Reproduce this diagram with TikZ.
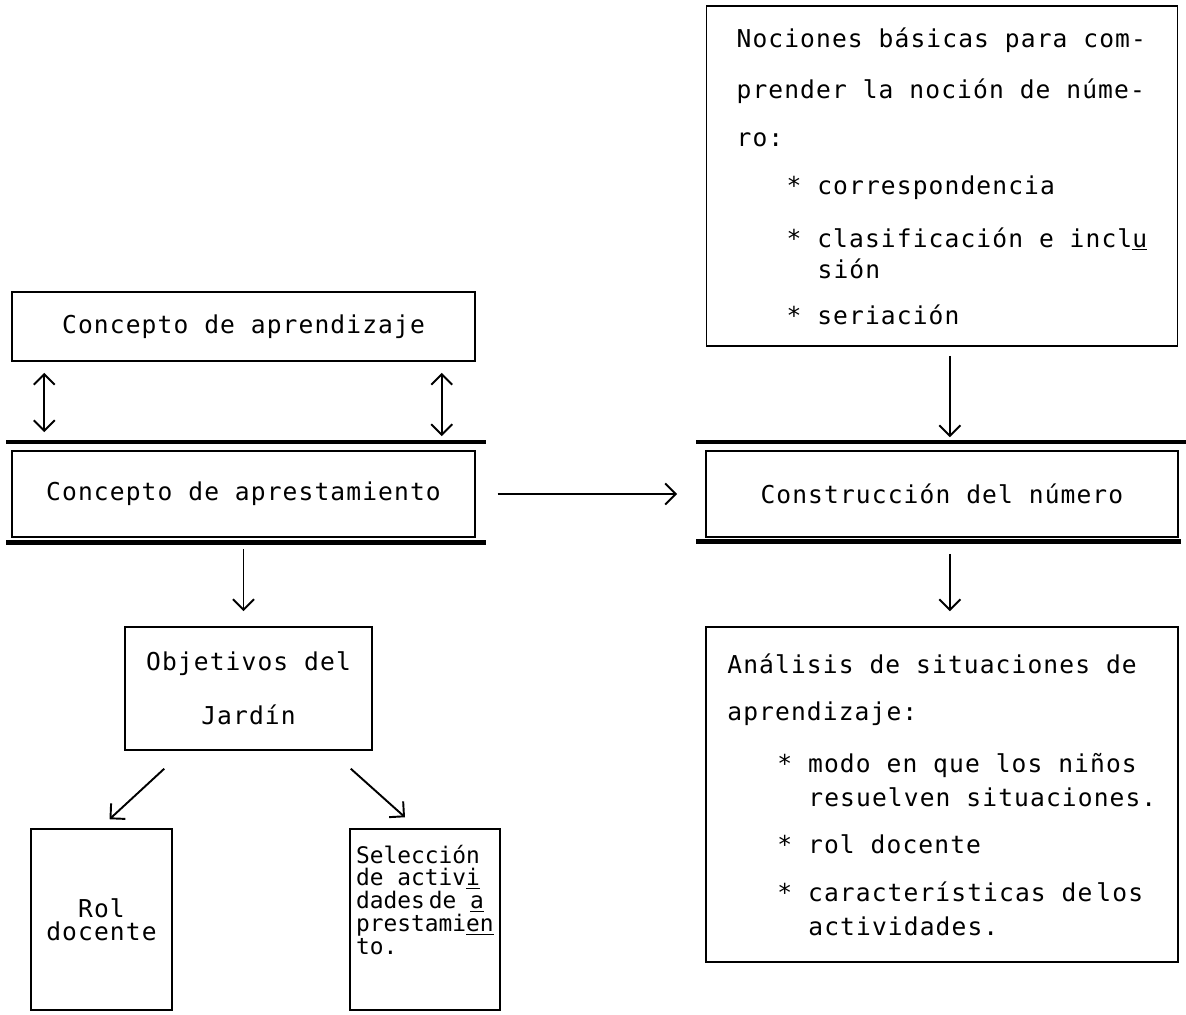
\documentclass[tikz,border=0pt]{standalone}
\usepackage{fontspec}
\newfontfamily\plotfont[LetterSpace=4.5]{DejaVu Sans Mono}
\newfontfamily\plotsmall{DejaVu Sans Mono}
\usetikzlibrary{arrows.meta,positioning}

\begin{document}
\begin{tikzpicture}[x=0.02cm, y=-0.02cm, >={Straight Barb[length=6pt,width=12pt]}, on grid,
  font=\plotfont\fontsize{14}{13}\selectfont,
  box/.style={draw, line width=0.9pt, inner sep=0pt, align=center},
  textbox/.style={box, align=left},
  arr/.style={->, line width=1.1pt},
  dbl/.style={<->, line width=1.1pt},
  bar/.style={line width=2.6pt}]
  \useasboundingbox (0,0) rectangle (1186,1014);
  % left column
  \node[box, minimum width=9.26cm, minimum height=1.38cm] (APREND) at (243.5,326.5) {Concepto de aprendizaje};
  \node[box, minimum width=9.26cm, minimum height=1.72cm] (APREST) [below=3.35cm of APREND] {Concepto de aprestamiento};
  \node[box, minimum width=4.94cm, minimum height=2.46cm] (OBJET) [below=3.89cm of APREST, xshift=0.1cm] {Objetivos del\\[0.54cm]Jard\'in};
  \node[box, minimum width=2.82cm, minimum height=3.62cm] (ROL) at (101.5,919.5) {Rol\\docente};
  \node[textbox, minimum width=3cm, minimum height=3.62cm, inner xsep=0.08cm,
    font=\plotsmall\fontsize{13}{13}\selectfont] (SELEC) at (425,919.5)
    {Selecci\'on\\de activ\underline{i}\\dades\,de \underline{a}\\prestami\underline{en}\\to.\\[0.34cm]\mbox{}};
  % right column
  \node[box, minimum width=9.44cm, minimum height=1.72cm] (CONSTR) [right=13.97cm of APREST] {Construcci\'on del n\'umero};
  \node[textbox, minimum width=9.42cm, minimum height=6.8cm] (NOCIONES) [above=6.36cm of CONSTR]
    {Nociones b\'asicas para com-\\[0.5cm]prender la noci\'on de n\'ume-\\[0.5cm]ro:\\[0.5cm]%
     \hspace*{1cm}* correspondencia\\[0.52cm]\hspace*{1cm}* clasificaci\'on e incl\underline{u}\\[0.12cm]%
     \hspace*{1.62cm}si\'on\\[0.46cm]\hspace*{1cm}* seriaci\'on};
  \node[textbox, minimum width=9.44cm, minimum height=6.7cm] (ANALISIS) [below=6.01cm of CONSTR]
    {An\'alisis de situaciones de\\[0.5cm]aprendizaje:\\[0.52cm]%
     \hspace*{1cm}* modo en que los ni\~nos\\[0.16cm]\hspace*{1.62cm}resuelven situaciones.\\[0.48cm]%
     \hspace*{1cm}* rol docente\\[0.5cm]\hspace*{1cm}* caracter\'isticas de\,los\\[0.22cm]%
     \hspace*{1.62cm}actividades.};
  % heavy rules round the two middle boxes
  \draw[bar] ([shift={(-5,-8)}]APREST.north west) -- ([shift={(10,-8)}]APREST.north east);
  \draw[bar] ([shift={(-5,5)}]APREST.south west) -- ([shift={(10,5)}]APREST.south east);
  \draw[bar] ([shift={(-9,-8)}]CONSTR.north west) -- ([shift={(8,-8)}]CONSTR.north east);
  \draw[bar] ([shift={(-9,4)}]CONSTR.south west) -- ([shift={(2,4)}]CONSTR.south east);
  % connectors
  \draw[dbl, shorten <=0.22cm, shorten >=0.36cm] ([shift={(33,0)}]APREND.south west) -- ([shift={(33,0)}]APREST.north west);
  \draw[dbl, shorten <=0.22cm, shorten >=0.28cm] ([shift={(-34,0)}]APREND.south east) -- ([shift={(-34,0)}]APREST.north east);
  \draw[arr, shorten <=0.44cm, shorten >=0.56cm] (APREST.east) -- (CONSTR.west);
  \draw[arr, shorten <=0.22cm, shorten >=0.3cm] (APREST.south) -- (APREST.south |- OBJET.north);
  \draw[arr] ([shift={(40,18)}]OBJET.south west) -- ([shift={(8,-9)}]ROL.north);
  \draw[arr] ([shift={(-22,18)}]OBJET.south east) -- ([shift={(-20,-11)}]SELEC.north);
  \draw[arr, shorten <=0.18cm, shorten >=0.26cm] ([shift={(8,0)}]NOCIONES.south) -- ([shift={(8,0)}]CONSTR.north);
  \draw[arr, shorten <=0.32cm, shorten >=0.3cm] ([shift={(8,0)}]CONSTR.south) -- ([shift={(8,0)}]ANALISIS.north);
\end{tikzpicture}
\end{document}
